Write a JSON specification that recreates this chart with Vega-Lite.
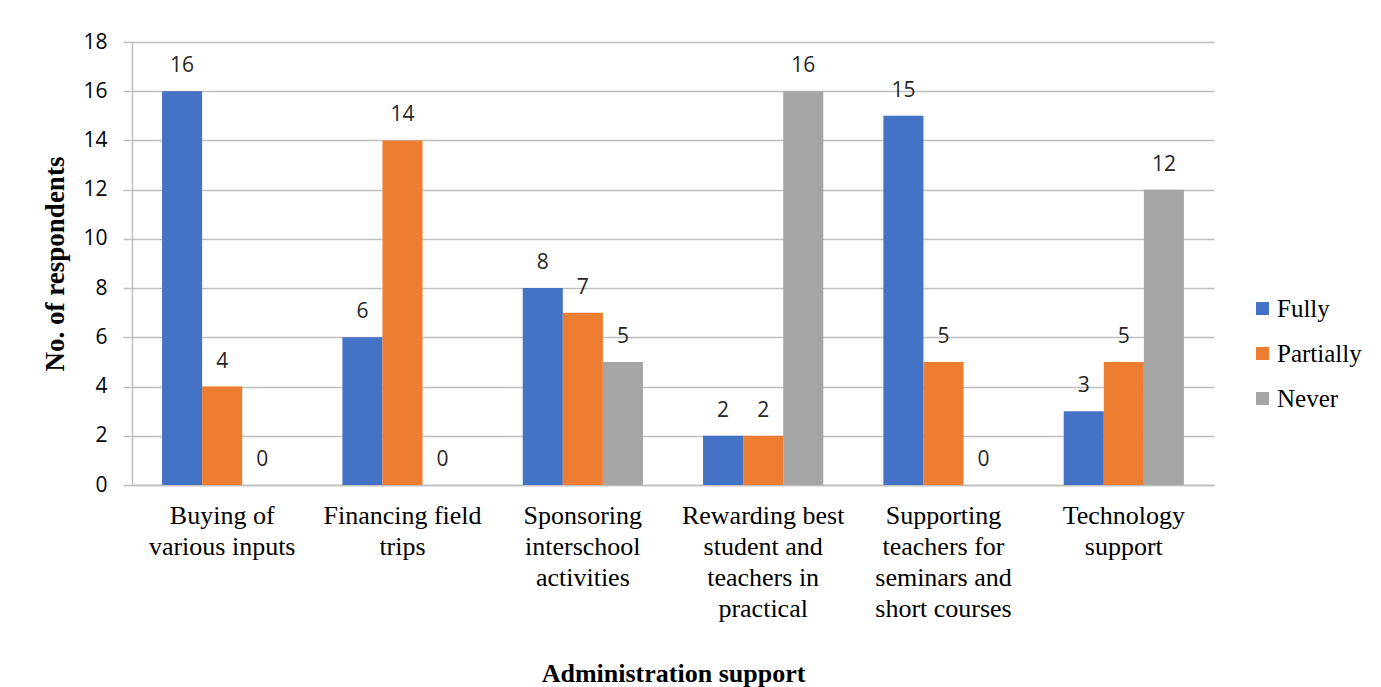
{
  "$schema": "https://vega.github.io/schema/vega-lite/v6.json",
  "width": 1082,
  "height": 443,
  "autosize": "none",
  "padding": {"left": 132, "top": 42, "right": 167, "bottom": 202},
  "background": "white",
  "data": {
    "values": [
      {"support": "Buying of|various inputs", "level": "Fully", "count": 16},
      {"support": "Buying of|various inputs", "level": "Partially", "count": 4},
      {"support": "Buying of|various inputs", "level": "Never", "count": 0},
      {"support": "Financing field|trips", "level": "Fully", "count": 6},
      {"support": "Financing field|trips", "level": "Partially", "count": 14},
      {"support": "Financing field|trips", "level": "Never", "count": 0},
      {"support": "Sponsoring|interschool|activities", "level": "Fully", "count": 8},
      {"support": "Sponsoring|interschool|activities", "level": "Partially", "count": 7},
      {"support": "Sponsoring|interschool|activities", "level": "Never", "count": 5},
      {"support": "Rewarding best|student and|teachers in|practical", "level": "Fully", "count": 2},
      {"support": "Rewarding best|student and|teachers in|practical", "level": "Partially", "count": 2},
      {"support": "Rewarding best|student and|teachers in|practical", "level": "Never", "count": 16},
      {"support": "Supporting|teachers for|seminars and|short courses", "level": "Fully", "count": 15},
      {"support": "Supporting|teachers for|seminars and|short courses", "level": "Partially", "count": 5},
      {"support": "Supporting|teachers for|seminars and|short courses", "level": "Never", "count": 0},
      {"support": "Technology|support", "level": "Fully", "count": 3},
      {"support": "Technology|support", "level": "Partially", "count": 5},
      {"support": "Technology|support", "level": "Never", "count": 12}
    ]
  },
  "encoding": {
    "x": {
      "field": "support",
      "type": "nominal",
      "sort": null,
      "scale": {"paddingInner": 0.3333, "paddingOuter": 0.1667},
      "axis": {
        "title": "Administration support",
        "titleFont": "Liberation Serif",
        "titleFontSize": 26,
        "titleFontWeight": "bold",
        "titleColor": "black",
        "titlePadding": 39,
        "labelExpr": "split(datum.value, '|')",
        "labelAngle": 0,
        "labelFont": "Liberation Serif",
        "labelFontSize": 26,
        "labelLineHeight": 31,
        "labelColor": "black",
        "labelPadding": 17,
        "labelBaseline": "top",
        "ticks": false,
        "domainColor": "#bfbfbf",
        "domainWidth": 1.5
      }
    },
    "xOffset": {"field": "level", "type": "nominal", "sort": ["Fully", "Partially", "Never"]},
    "y": {
      "field": "count",
      "type": "quantitative",
      "scale": {"domain": [0, 18], "nice": false},
      "axis": {
        "title": "No. of respondents",
        "titleFont": "Liberation Serif",
        "titleFontSize": 27,
        "titleFontWeight": "bold",
        "titleColor": "black",
        "titlePadding": 13,
        "values": [0, 2, 4, 6, 8, 10, 12, 14, 16, 18],
        "labelFont": "Open Sans",
        "labelFontSize": 21,
        "labelColor": "black",
        "labelPadding": 16,
        "tickSize": 9,
        "tickColor": "#bfbfbf",
        "tickWidth": 1.5,
        "gridColor": "#bfbfbf",
        "gridWidth": 1.5,
        "domainColor": "#bfbfbf",
        "domainWidth": 1.5
      }
    }
  },
  "layer": [
    {
      "mark": {"type": "bar"},
      "encoding": {
        "color": {
          "field": "level",
          "type": "nominal",
          "sort": ["Fully", "Partially", "Never"],
          "scale": {"domain": ["Fully", "Partially", "Never"], "range": ["#4472C4", "#ED7D31", "#A5A5A5"]},
          "legend": {
            "title": null,
            "orient": "none",
            "legendX": 1118,
            "legendY": 254,
            "symbolType": "square",
            "symbolSize": 170,
            "symbolStrokeWidth": 0,
            "labelFont": "Liberation Serif",
            "labelFontSize": 25,
            "labelColor": "black",
            "labelOffset": 2,
            "rowPadding": 19,
            "labelLimit": 200
          }
        }
      }
    },
    {
      "mark": {"type": "text", "baseline": "alphabetic", "dy": -19, "font": "Open Sans", "fontSize": 21, "color": "#262626"},
      "encoding": {
        "text": {"field": "count", "type": "quantitative"}
      }
    }
  ],
  "config": {
    "view": {"stroke": null},
    "legend": {"labelFont": "Liberation Serif", "labelFontSize": 25}
  }
}
